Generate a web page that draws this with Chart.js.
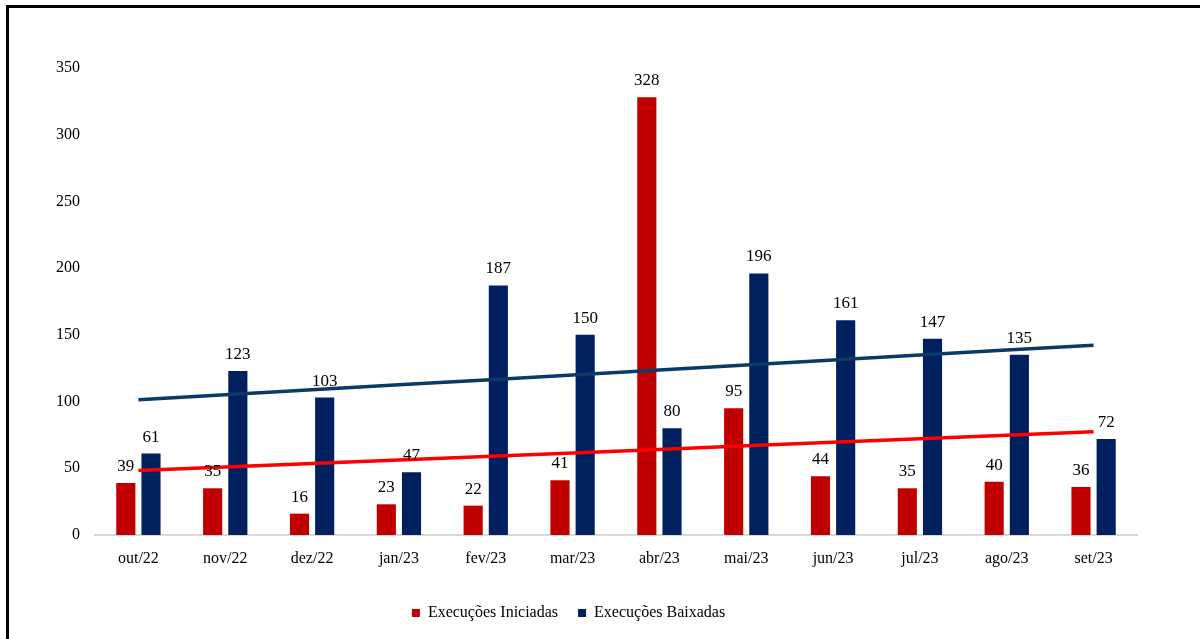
<!DOCTYPE html>
<html lang="pt">
<head>
  <meta charset="UTF-8">
  <title>Execuções Iniciadas x Baixadas</title>
  <style>
    * {
      margin: 0;
      padding: 0;
      box-sizing: border-box;
    }

    body {
      width: 1200px;
      height: 639px;
      background: #fff;
      position: relative;
      overflow: hidden;
    }

    .frame {
      position: absolute;
      left: 6px;
      top: 5px;
      right: 0;
      bottom: 0;
      border-left: 3px solid #000;
      border-top: 3px solid #000;
    }

    #chart-container {
      position: absolute;
      left: 0;
      top: 0;
      width: 1200px;
      height: 639px;
    }
  </style>
</head>
<body>
  <div class="frame"></div>
  <div id="chart-container">
    <canvas id="chart"></canvas>
  </div>

  <script src="https://cdn.jsdelivr.net/npm/chart.js"></script>
  <script>
    const months = ['out/22', 'nov/22', 'dez/22', 'jan/23', 'fev/23', 'mar/23',
                    'abr/23', 'mai/23', 'jun/23', 'jul/23', 'ago/23', 'set/23'];
    const iniciadas = [39, 35, 16, 23, 22, 41, 328, 95, 44, 35, 40, 36];
    const baixadas = [61, 123, 103, 47, 187, 150, 80, 196, 161, 147, 135, 72];
    const yTicks = [0, 50, 100, 150, 200, 250, 300, 350];

    // linear trend (least squares), like the spreadsheet trendline
    function trend(values) {
      const n = values.length;
      const mx = (n - 1) / 2;
      const my = values.reduce((a, b) => a + b, 0) / n;
      let num = 0, den = 0;
      values.forEach((v, i) => {
        num += (i - mx) * (v - my);
        den += (i - mx) * (i - mx);
      });
      const slope = num / den;
      return values.map((v, i) => my + slope * (i - mx));
    }

    const serif = '"Liberation Serif", "Times New Roman", serif';

    const barLabels = {
      id: 'barLabels',
      afterDatasetsDraw(chart) {
        const ctx = chart.ctx;
        ctx.save();
        ctx.font = '17px ' + serif;
        ctx.fillStyle = '#000';
        ctx.textAlign = 'center';
        ctx.textBaseline = 'alphabetic';
        chart.data.datasets.forEach((ds, i) => {
          if (ds.type !== 'bar') return;
          chart.getDatasetMeta(i).data.forEach((bar, j) => {
            ctx.fillText(ds.data[j], bar.x, bar.y - 12);
          });
        });
        ctx.restore();
      }
    };

    const chart = new Chart(document.getElementById('chart'), {
      data: {
        labels: months,
        datasets: [
          {
            type: 'line',
            label: 'trend-iniciadas',
            data: trend(iniciadas),
            borderColor: '#FF0000',
            borderWidth: 3.5,
            pointRadius: 0,
            fill: false,
            order: 0
          },
          {
            type: 'line',
            label: 'trend-baixadas',
            data: trend(baixadas),
            borderColor: '#0B3A66',
            borderWidth: 3.5,
            pointRadius: 0,
            fill: false,
            order: 0
          },
          {
            type: 'bar',
            label: 'Execuções Iniciadas',
            data: iniciadas,
            backgroundColor: '#C00000',
            barPercentage: 0.76,
            categoryPercentage: 0.58,
            order: 1
          },
          {
            type: 'bar',
            label: 'Execuções Baixadas',
            data: baixadas,
            backgroundColor: '#002060',
            barPercentage: 0.76,
            categoryPercentage: 0.58,
            order: 1
          }
        ]
      },
      options: {
        responsive: true,
        maintainAspectRatio: false,
        animation: false,
        layout: {
          padding: { left: 0, right: 63, top: 68, bottom: 8 }
        },
        scales: {
          x: {
            grid: { display: false, drawTicks: false },
            border: { display: true, color: '#D9D9D9', width: 2 },
            ticks: {
              color: '#000',
              padding: 14,
              font: { family: serif, size: 16 }
            },
            afterFit(scale) { scale.height = 50; }
          },
          y: {
            min: 0,
            max: 350,
            afterBuildTicks(scale) {
              scale.ticks = yTicks.map(v => ({ value: v }));
            },
            grid: { display: false, drawTicks: false },
            border: { display: false },
            ticks: {
              color: '#000',
              padding: 15,
              font: { family: serif, size: 16 }
            },
            afterFit(scale) { scale.width = 95; }
          }
        },
        plugins: {
          legend: {
            position: 'bottom',
            labels: {
              color: '#000',
              boxWidth: 8,
              boxHeight: 8,
              padding: 20,
              font: { family: serif, size: 16 },
              filter: item => !item.text.startsWith('trend')
            }
          },
          tooltip: { enabled: false }
        }
      },
      plugins: [barLabels]
    });
  </script>
</body>
</html>
